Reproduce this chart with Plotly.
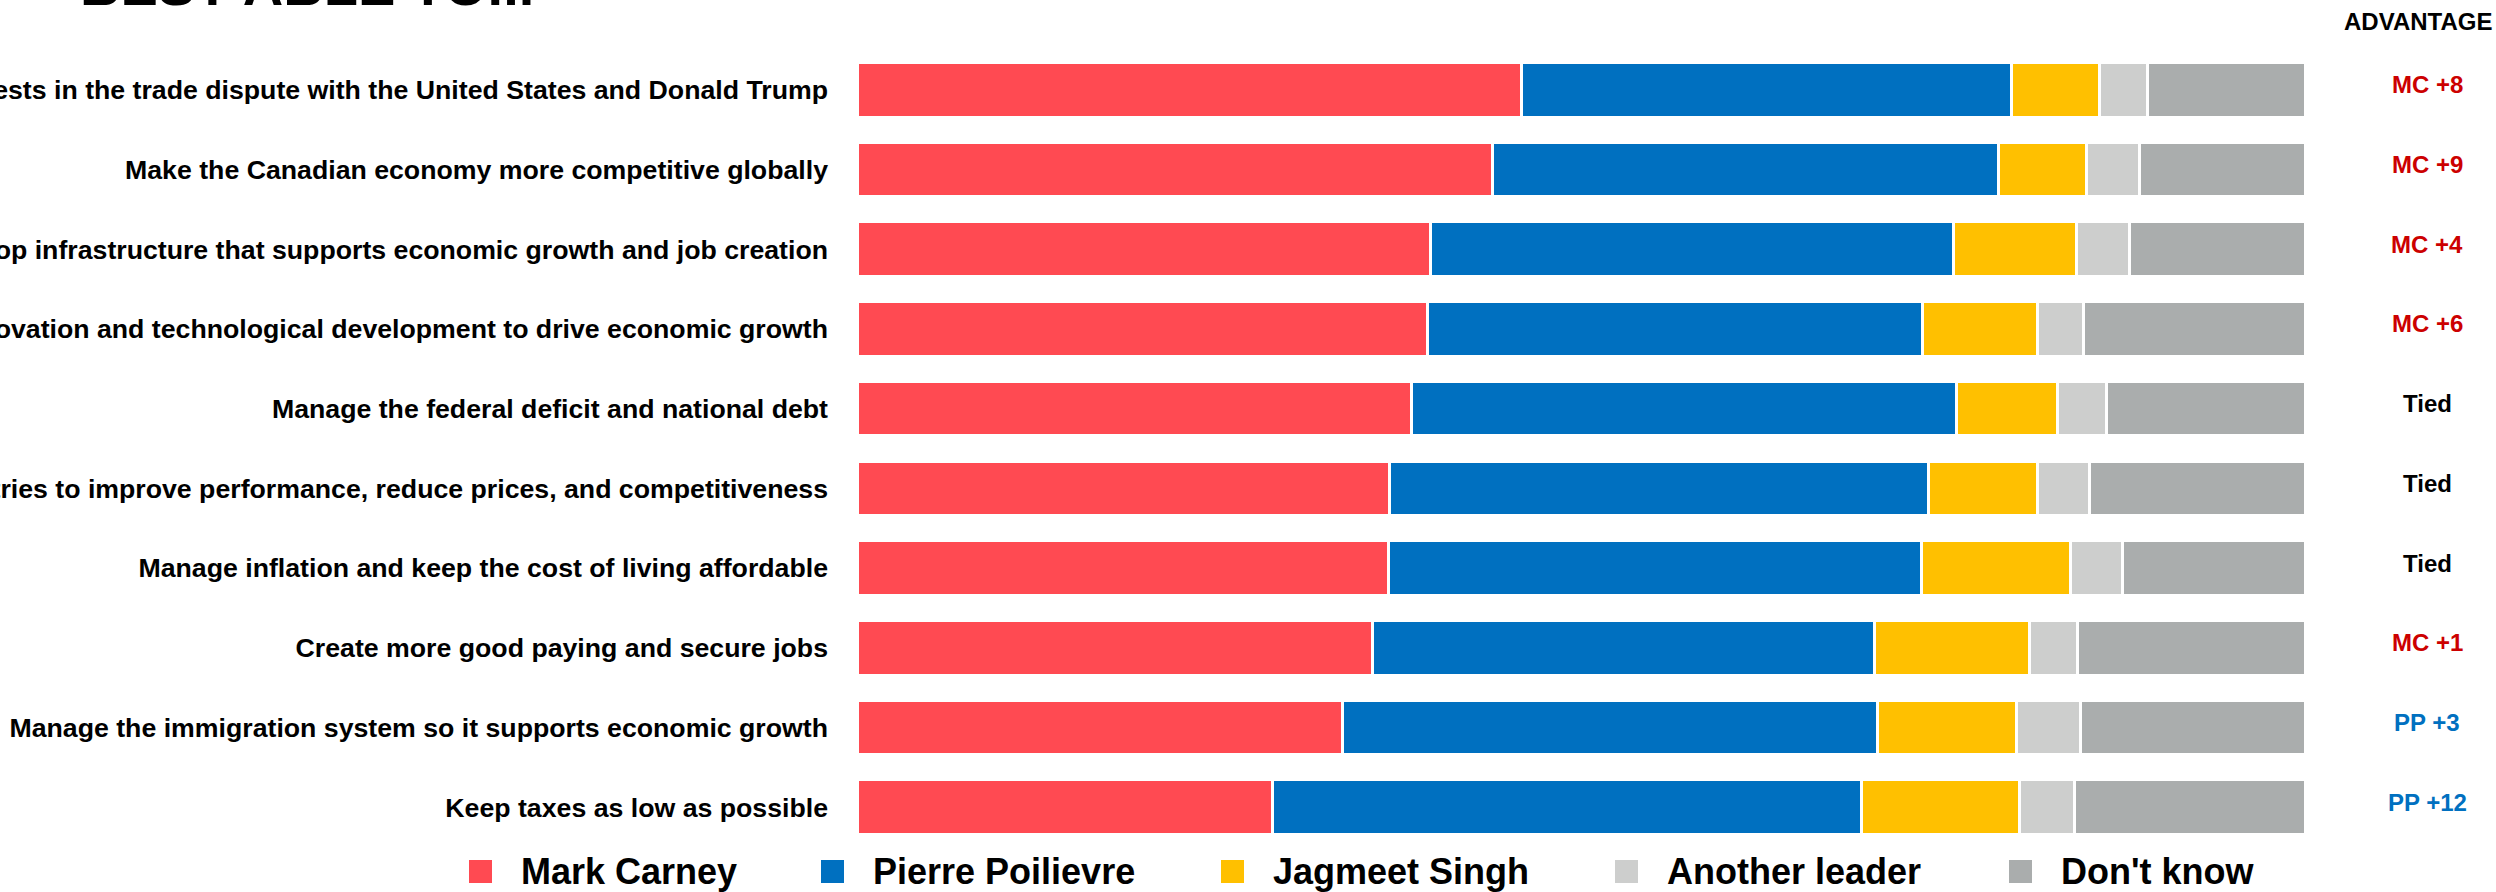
import plotly.graph_objects as go

categories = [
    "Defend Canada's interests in the trade dispute with the United States and Donald Trump",
    "Make the Canadian economy more competitive globally",
    "Develop infrastructure that supports economic growth and job creation",
    "Support innovation and technological development to drive economic growth",
    "Manage the federal deficit and national debt",
    "Increase competition in key industries to improve performance, reduce prices, and competitiveness",
    "Manage inflation and keep the cost of living affordable",
    "Create more good paying and secure jobs",
    "Manage the immigration system so it supports economic growth",
    "Keep taxes as low as possible",
]
series_names = ["Mark Carney", "Pierre Poilievre", "Jagmeet Singh", "Another leader", "Don't know"]
mark_carney = [45.9, 43.9, 39.6, 39.4, 38.3, 36.8, 36.7, 35.6, 33.5, 28.7]
pierre_poilievre = [33.8, 34.9, 36.1, 34.2, 37.6, 37.2, 36.8, 34.7, 37.0, 40.7]
jagmeet_singh = [6.1, 6.1, 8.5, 7.9, 7.0, 7.5, 10.3, 10.7, 9.6, 10.9]
another_leader = [3.3, 3.7, 3.7, 3.2, 3.4, 3.6, 3.6, 3.3, 4.4, 3.8]
dont_know = [10.9, 11.4, 12.1, 15.3, 13.7, 14.9, 12.6, 15.7, 15.5, 15.9]
advantage = ["MC +8", "MC +9", "MC +4", "MC +6", "Tied", "Tied", "Tied", "MC +1", "PP +3", "PP +12"]
title_text = "BEST ABLE TO..."
advantage_header = "ADVANTAGE"

colors = ["#FF4A52", "#0070C0", "#FFC000", "#CDCECD", "#AAADAD"]
adv_colors = {"MC": "#CC0000", "PP": "#0070C0", "Tied": "#000000"}
FONT = "Liberation Sans, Arial, Helvetica, sans-serif"

W_PX, H_PX = 2496, 892
OFF = 0  # page body margin removed via post_script
# screen-pixel layout of the plot area
PLOT_L, PLOT_R, PLOT_T, PLOT_B = 857, 2305, 50, 847.5
M_L = PLOT_L - OFF
M_R = W_PX - (PLOT_R - OFF)
M_T = PLOT_T - OFF
M_B = H_PX - (PLOT_B - OFF)
PW = PLOT_R - PLOT_L
PH = PLOT_B - PLOT_T


def sx(px):
    return (px - PLOT_L) / PW


def sy(py):
    return (PLOT_B - py) / PH


fig = go.Figure()
for name, vals, col in zip(series_names,
                           [mark_carney, pierre_poilievre, jagmeet_singh, another_leader, dont_know],
                           colors):
    fig.add_trace(go.Bar(
        y=categories, x=vals, name=name, orientation="h",
        marker=dict(color=col, line=dict(color="white", width=3)),
        showlegend=False, hoverinfo="x+y+name",
    ))

annotations = []
# title (mostly above the visible area)
annotations.append(dict(
    text="<b>" + title_text + "</b>", xref="paper", yref="paper",
    x=sx(78), y=sy(19), xanchor="left", yanchor="bottom", showarrow=False,
    font=dict(family=FONT, size=56, color="black"),
))
# advantage header
annotations.append(dict(
    text="<b>" + advantage_header + "</b>", xref="paper", yref="paper",
    x=sx(2418), y=sy(21), xanchor="center", yanchor="middle", showarrow=False,
    font=dict(family=FONT, size=24, color="black"),
))
for cat, adv in zip(categories, advantage):
    key = adv.split(" ")[0]
    annotations.append(dict(
        text="<b>" + adv + "</b>", xref="paper", yref="y",
        x=sx(2427), y=cat, xanchor="center", yanchor="middle", showarrow=False,
        yshift=5, font=dict(family=FONT, size=24, color=adv_colors[key]),
    ))

# legend (custom, large square swatches)
legend_text_left = [521, 873, 1273, 1667, 2061]
legend_y = 872
shapes = []
for name, col, tx in zip(series_names, colors, legend_text_left):
    shapes.append(dict(
        type="rect", xref="paper", yref="paper",
        x0=sx(tx - 52), x1=sx(tx - 29), y0=sy(legend_y + 11.5), y1=sy(legend_y - 11.5),
        fillcolor=col, line=dict(width=0), layer="above",
    ))
    annotations.append(dict(
        text="<b>" + name + "</b>", xref="paper", yref="paper",
        x=sx(tx - 2), y=sy(legend_y), xanchor="left", yanchor="middle", showarrow=False,
        font=dict(family=FONT, size=36, color="black"),
    ))

fig.update_layout(
    template="none",
    barmode="stack",
    width=W_PX, height=H_PX,
    margin=dict(l=M_L, r=M_R, t=M_T, b=M_B, autoexpand=False),
    paper_bgcolor="white", plot_bgcolor="white",
    bargap=0.315,
    showlegend=False,
    annotations=annotations,
    shapes=shapes,
    xaxis=dict(range=[0, 100], visible=False, automargin=False, showgrid=False, zeroline=False),
    yaxis=dict(autorange="reversed", automargin=False, showgrid=False, zeroline=False,
               showline=False, ticks="", ticklabelstandoff=28,
               tickfont=dict(family=FONT, size=26.7, color="black", weight="bold")),
)

fig.write_html("out.html",
               config={"displayModeBar": False},
               post_script="document.body.style.margin='0px';document.body.style.overflow='hidden';")
